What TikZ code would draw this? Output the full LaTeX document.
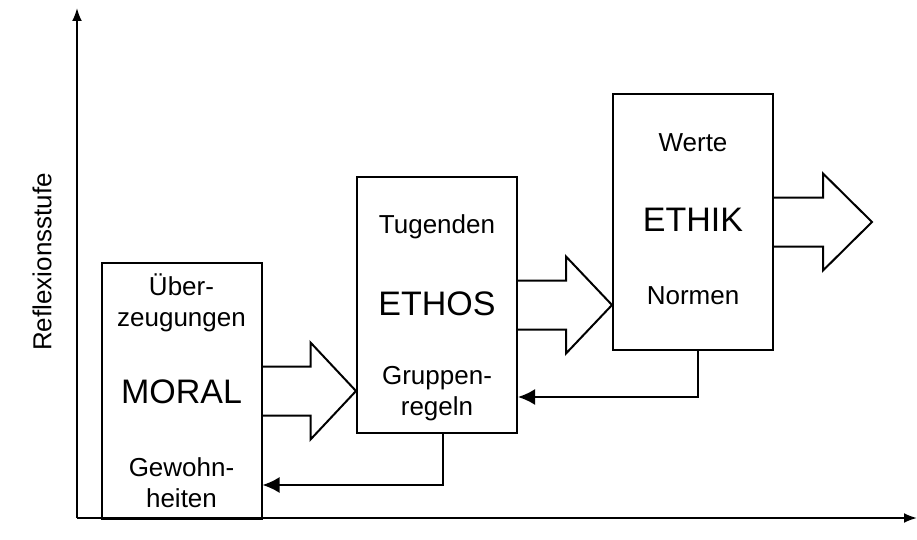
\documentclass[tikz,border=0pt]{standalone}
\usepackage{fontspec}
\setmainfont{Liberation Sans}
\usetikzlibrary{arrows.meta,positioning,calc}

\begin{document}
\begin{tikzpicture}[x=1pt, y=1pt, line cap=butt, line join=miter,
    stage/.style={draw, line width=2pt, minimum width=160pt, minimum height=256pt, inner sep=0pt},
    small/.style={font=\fontsize{26}{31}\selectfont, align=center, inner sep=0pt},
    big/.style={font=\fontsize{34}{40}\selectfont, inner sep=0pt},
    blockarrow/.style={draw, line width=2pt},
    back/.style={draw, line width=2pt, -{Latex[length=17pt,width=16pt]}},
    axis/.style={draw, line width=2pt, -{Latex[length=13pt,width=10pt]}}]
    \useasboundingbox (0,0) rectangle (917,539);
    % axes
    \coordinate (origin) at (77,21);
    \coordinate (ytop) at (77,531);
    \coordinate (xend) at (917,21);
    \draw[axis] (origin) -- (ytop);
    \draw[axis] (origin) -- (xend);
    \node[small, rotate=90] (ylabel) at (42,277) {Reflexionsstufe};
    % stages
    \node[stage] (moral) at (181.5,148) {};
    \node[stage] (ethos) at (437,234) {};
    \node[stage] (ethik) at (693,317) {};
    \node[small] (ueber) at ($(moral.north)+(0,-41)$) {Über-\\zeugungen};
    \node[big] (moraltxt) at ($(moral.north)+(0,-130)$) {MORAL};
    \node[small] (gewohn) at ($(moral.north)+(0,-221)$) {Gewohn-\\heiten};
    \node[small] (tugend) at ($(ethos.north)+(0,-51)$) {Tugenden};
    \node[big] (ethostxt) at ($(ethos.north)+(0,-128)$) {ETHOS};
    \node[small] (gruppe) at ($(ethos.north)+(0,-218)$) {Gruppen-\\regeln};
    \node[small] (werte) at ($(ethik.north)+(0,-50)$) {Werte};
    \node[big] (ethiktxt) at ($(ethik.north)+(0,-127)$) {ETHIK};
    \node[small] (normen) at ($(ethik.north)+(0,-203)$) {Normen};
    % block arrows
    \coordinate (tip1) at (ethos.west |- moral.east);
    \coordinate (tip2) at (ethik.west |- ethos.east);
    \coordinate (tip3) at ($(ethik.east)+(98,0)$);
    \draw[blockarrow] ($(moral.east)+(0,24.5)$) -- ++(48,0) -- ++(0,24) -- (tip1)
        -- ($(moral.east)+(48,-48.5)$) -- ++(0,24) -- ($(moral.east)+(0,-24.5)$);
    \draw[blockarrow] ($(ethos.east)+(0,24.5)$) -- ++(48,0) -- ++(0,24) -- (tip2)
        -- ($(ethos.east)+(48,-48.5)$) -- ++(0,24) -- ($(ethos.east)+(0,-24.5)$);
    \draw[blockarrow] ($(ethik.east)+(0,24.5)$) -- ++(49,0) -- ++(0,24) -- (tip3)
        -- ($(ethik.east)+(49,-48.5)$) -- ++(0,24) -- ($(ethik.east)+(0,-24.5)$);
    % feedback
    \coordinate (fb1) at ($(ethik.south)+(5,0)$);
    \coordinate (fb1end) at (ethos.east |- 0,142);
    \coordinate (fb2) at ($(ethos.south)+(6,0)$);
    \coordinate (fb2end) at (moral.east |- 0,54);
    \draw[back] (fb1) |- (fb1end);
    \draw[back] (fb2) |- (fb2end);
\end{tikzpicture}
\end{document}
